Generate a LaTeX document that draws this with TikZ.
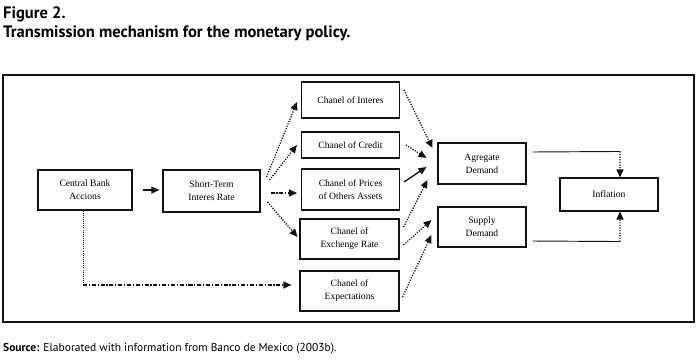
\documentclass[tikz,border=0pt]{standalone}
\usepackage{fontspec}
\setmainfont{Liberation Serif}
\newfontfamily\headfont{PT Sans}
\usepackage{xcolor}
\usepackage{tikz}
\usetikzlibrary{positioning,arrows.meta,calc}
\definecolor{ink}{HTML}{111111}
\tikzset{
    chanbox/.style={rectangle, draw=ink, line width=0.9pt, align=center, inner sep=1pt, font=\fontsize{8.2}{11}\selectfont},
    frame/.style={draw=ink, line width=1pt},
    tip/.style={-{Triangle[length=0.24cm, width=0.21cm]}},
    solidarrow/.style={tip, line width=1.1pt, color=ink},
    dotarrow/.style={tip, line width=1.1pt, color=ink, dash pattern=on 1pt off 1.2pt},
    dasharrow/.style={tip, line width=1.1pt, color=ink, dash pattern=on 3.5pt off 1.5pt on 1pt off 1.5pt},
    feed/.style={line width=0.8pt, color=ink},
    caption/.style={anchor=base west, inner sep=0pt, font=\headfont}
}

\begin{document}
\begin{tikzpicture}[x=0.03cm, y=-0.03cm]
\useasboundingbox (0,0) rectangle (698,359);

% Heading
\node[caption, font=\headfont\bfseries\fontsize{14.1}{16}\selectfont] (fig) at (3,18) {Figure 2.};
\node[caption, font=\headfont\bfseries\fontsize{14.1}{16}\selectfont] (title) at (3,37) {Transmission mechanism for the monetary policy.};

% Frame
\draw[frame] (3,75) rectangle (694,322);

% Origin of the impulse
\node[chanbox, minimum width=2.82cm, minimum height=1.2cm] at (85,190) (cb) {Central Bank\\Accions};
\node[chanbox, minimum width=2.91cm, minimum height=1.26cm] at (211.5,191) (st) {Short-Term\\Interes Rate};

% Channels
\node[chanbox, minimum width=2.94cm, minimum height=1.08cm] at (350.5,100) (ci) {Chanel of Interes};
\node[chanbox, minimum width=2.94cm, minimum height=0.78cm] at (350.5,145) (cc) {Chanel of Credit};
\node[chanbox, minimum width=2.94cm, minimum height=1.23cm] at (350.5,189.5) (cp) {Chanel of Prices\\of Others Assets};
\node[chanbox, minimum width=2.97cm, minimum height=1.2cm] at (349.5,239) (ce) {Chanel of\\Exchenge Rate};
\node[chanbox, minimum width=2.97cm, minimum height=1.2cm] at (349.5,291) (cx) {Chanel of\\Expectations};

% Demand side
\node[chanbox, minimum width=2.64cm, minimum height=1.23cm] at (482,163.5) (ad) {Agregate\\Demand};
\node[chanbox, minimum width=2.64cm, minimum height=1.2cm] at (482,227) (sd) {Supply\\Demand};
\node[chanbox, minimum width=2.94cm, minimum height=0.99cm] at (609,194.5) (inf) {Inflation};

% Helper points
\coordinate (bend) at (83,285);
\coordinate (adturn) at ($(inf.north)+(11,-26)$);
\coordinate (sdturn) at ($(inf.south)+(11,30)$);

\draw[solidarrow] ([xshift=0.3cm]cb.east) -- ([xshift=-0.09cm]cb.east -| st.west);

\draw[dotarrow] ([shift={(6,-14)}]st.east) -- ([shift={(-4,2)}]ci.west);
\draw[dotarrow] ([shift={(9,-11)}]st.east) -- ([shift={(-4,0)}]cc.west);
\draw[dasharrow] ([shift={(10,2)}]st.east) -- ([shift={(-4,3.5)}]cp.west);
\draw[dotarrow] ([shift={(7,11)}]st.east) -- ([shift={(-2,-2)}]ce.west);

\draw[feed, line width=0.5pt, dash pattern=on 0.8pt off 1pt] ([xshift=-0.06cm]cb.south) -- (bend);
\draw[dasharrow] (bend) -- ([shift={(-8,-6)}]cx.west);

\draw[dotarrow] ([shift={(4,-10)}]ci.east) -- ([shift={(-5,-15.5)}]ad.west);
\draw[dotarrow] ([shift={(6,0)}]cc.east) -- ([shift={(-11,-5.5)}]ad.west);
\draw[solidarrow] ([shift={(4,-7.5)}]cp.east) -- ([shift={(-11,3.5)}]ad.west);
\draw[dotarrow] ([shift={(4,-12)}]ce.east) -- ([shift={(-10,16.5)}]ad.west);
\draw[dotarrow] ([shift={(4,6)}]ce.east) -- ([shift={(-6,-7)}]sd.west);
\draw[dotarrow] ([shift={(3,6)}]cx.east) -- ([shift={(-6,8)}]sd.west);

\draw[feed] ([shift={(6,-11.5)}]ad.east) -- (adturn);
\draw[dotarrow] (adturn) -- ([xshift=0.33cm]inf.north);
\draw[feed] ([shift={(6,14)}]sd.east) -- (sdturn);
\draw[dotarrow] (sdturn) -- ([xshift=0.33cm]inf.south);

% Source
\node[caption, font=\headfont\fontsize{9.8}{11}\selectfont] (src) at (3,351) {\textbf{Source:} Elaborated with information from Banco de Mexico (2003b).};

\end{tikzpicture}
\end{document}
